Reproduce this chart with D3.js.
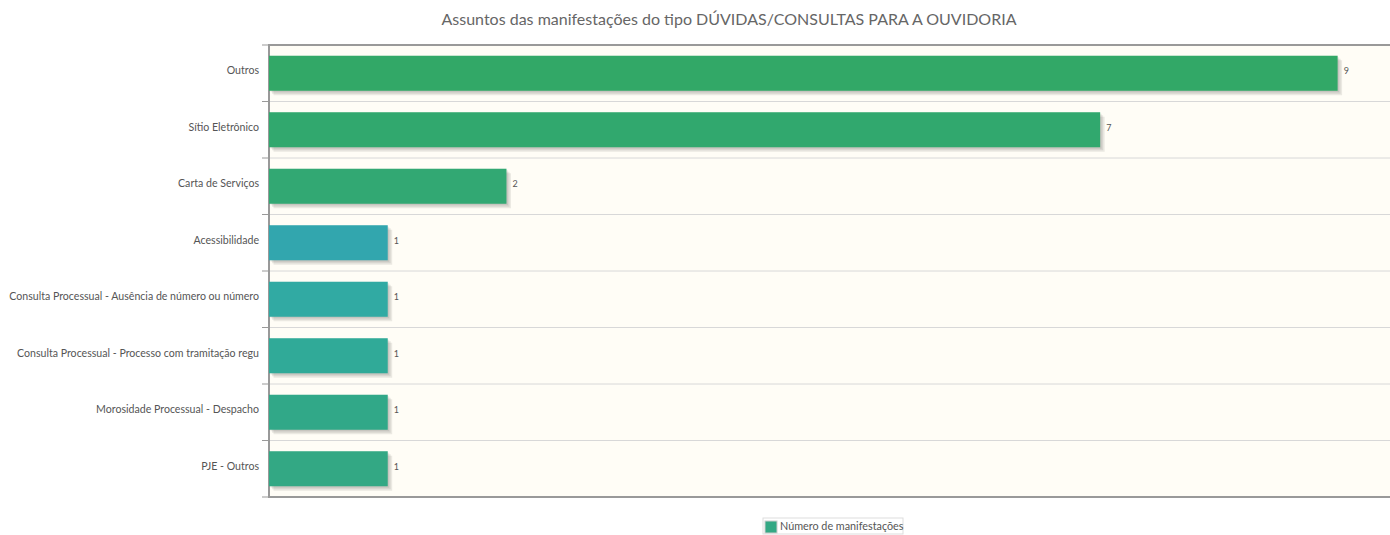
<!DOCTYPE html>
<html>
<head>
<meta charset="utf-8">
<script src="https://cdn.jsdelivr.net/npm/d3@7"></script>
<style>
  body { margin: 0; background: #fff; overflow: hidden; }
  svg { display: block; font-family: Lato, "DejaVu Sans", sans-serif; }
</style>
</head>
<body>
<svg id="chart" width="1390" height="535"></svg>
<script>
const categories = [
  'Outros',
  'Sítio Eletrônico',
  'Carta de Serviços',
  'Acessibilidade',
  'Consulta Processual - Ausência de número ou número',
  'Consulta Processual - Processo com tramitação regu',
  'Morosidade Processual - Despacho',
  'PJE - Outros'
]
const counts = [9, 7, 2, 1, 1, 1, 1, 1]
const barColors = ['#32a867', '#31a86e', '#32a873', '#32a6ae', '#31aaa3', '#30aa98', '#31a888', '#33a884']
const seriesName = 'Número de manifestações'
const title = 'Assuntos das manifestações do tipo DÚVIDAS/CONSULTAS PARA A OUVIDORIA'

const svg = d3.select('#chart')
const plot = {left: 269, right: 1397, top: 45, bottom: 497}

const x = d3.scaleLinear().domain([0, 9.5]).range([plot.left, plot.right])
const y = d3.scaleBand()
  .domain(categories)
  .range([plot.top, plot.bottom])
  .paddingInner(0.38)
  .paddingOuter(0.19)
const step = y.step()

// title
svg.append('text')
  .attr('x', 729)
  .attr('y', 25)
  .attr('text-anchor', 'middle')
  .attr('font-size', 16)
  .attr('fill', '#666')
  .text(title)

// plot background
svg.append('rect')
  .attr('x', plot.left).attr('y', plot.top)
  .attr('width', plot.right - plot.left).attr('height', plot.bottom - plot.top)
  .attr('fill', '#fffdf6')

// grid lines between rows
const rowEdges = d3.range(categories.length + 1).map(i => plot.top + i * step)
svg.append('g').selectAll('line')
  .data(rowEdges.slice(1, -1))
  .join('line')
  .attr('x1', plot.left).attr('x2', plot.right)
  .attr('y1', d => d).attr('y2', d => d)
  .attr('stroke', '#d8d8d8')

// ticks on the left of the axis
svg.append('g').selectAll('line')
  .data(rowEdges)
  .join('line')
  .attr('x1', plot.left - 7).attr('x2', plot.left)
  .attr('y1', d => d).attr('y2', d => d)
  .attr('stroke', '#999')

// border
svg.append('rect')
  .attr('x', plot.left).attr('y', plot.top)
  .attr('width', plot.right - plot.left).attr('height', plot.bottom - plot.top)
  .attr('fill', 'none')
  .attr('stroke', '#999')
  .attr('stroke-width', 2)

const data = categories.map((c, i) => ({name: c, count: counts[i], color: barColors[i]}))

// bar shadows
const shadows = svg.append('g')
;[1.5, 3, 4.5].forEach(off => {
  shadows.append('g').selectAll('rect')
    .data(data)
    .join('rect')
    .attr('x', x(0) + off)
    .attr('y', d => y(d.name) + off)
    .attr('width', d => x(d.count) - x(0))
    .attr('height', y.bandwidth())
    .attr('fill', '#000')
    .attr('opacity', 0.08)
})

// bars
svg.append('g').selectAll('rect')
  .data(data)
  .join('rect')
  .attr('x', x(0))
  .attr('y', d => y(d.name))
  .attr('width', d => x(d.count) - x(0))
  .attr('height', y.bandwidth())
  .attr('fill', d => d.color)

// value labels
svg.append('g').selectAll('text')
  .data(data)
  .join('text')
  .attr('x', d => x(d.count) + 6)
  .attr('y', d => y(d.name) + y.bandwidth() / 2 - 2)
  .attr('dy', '0.35em')
  .attr('font-size', 9)
  .attr('fill', '#555')
  .text(d => d.count)

// category labels
svg.append('g').selectAll('text')
  .data(data)
  .join('text')
  .attr('x', 259)
  .attr('y', d => y(d.name) + y.bandwidth() / 2 - 2.5)
  .attr('dy', '0.35em')
  .attr('text-anchor', 'end')
  .attr('font-size', 10.6)
  .attr('fill', '#555')
  .text(d => d.name)

// legend
const legend = svg.append('g').attr('transform', 'translate(763, 518)')
legend.append('rect')
  .attr('width', 140).attr('height', 16)
  .attr('fill', '#fff').attr('stroke', '#ddd')
legend.append('rect')
  .attr('x', 2).attr('y', 3)
  .attr('width', 12).attr('height', 12)
  .attr('fill', '#33a884')
  .attr('stroke', '#ccc')
legend.append('text')
  .attr('x', 17).attr('y', 8)
  .attr('dy', '0.35em')
  .attr('font-size', 10.8)
  .attr('fill', '#555')
  .text(seriesName)
</script>
</body>
</html>
